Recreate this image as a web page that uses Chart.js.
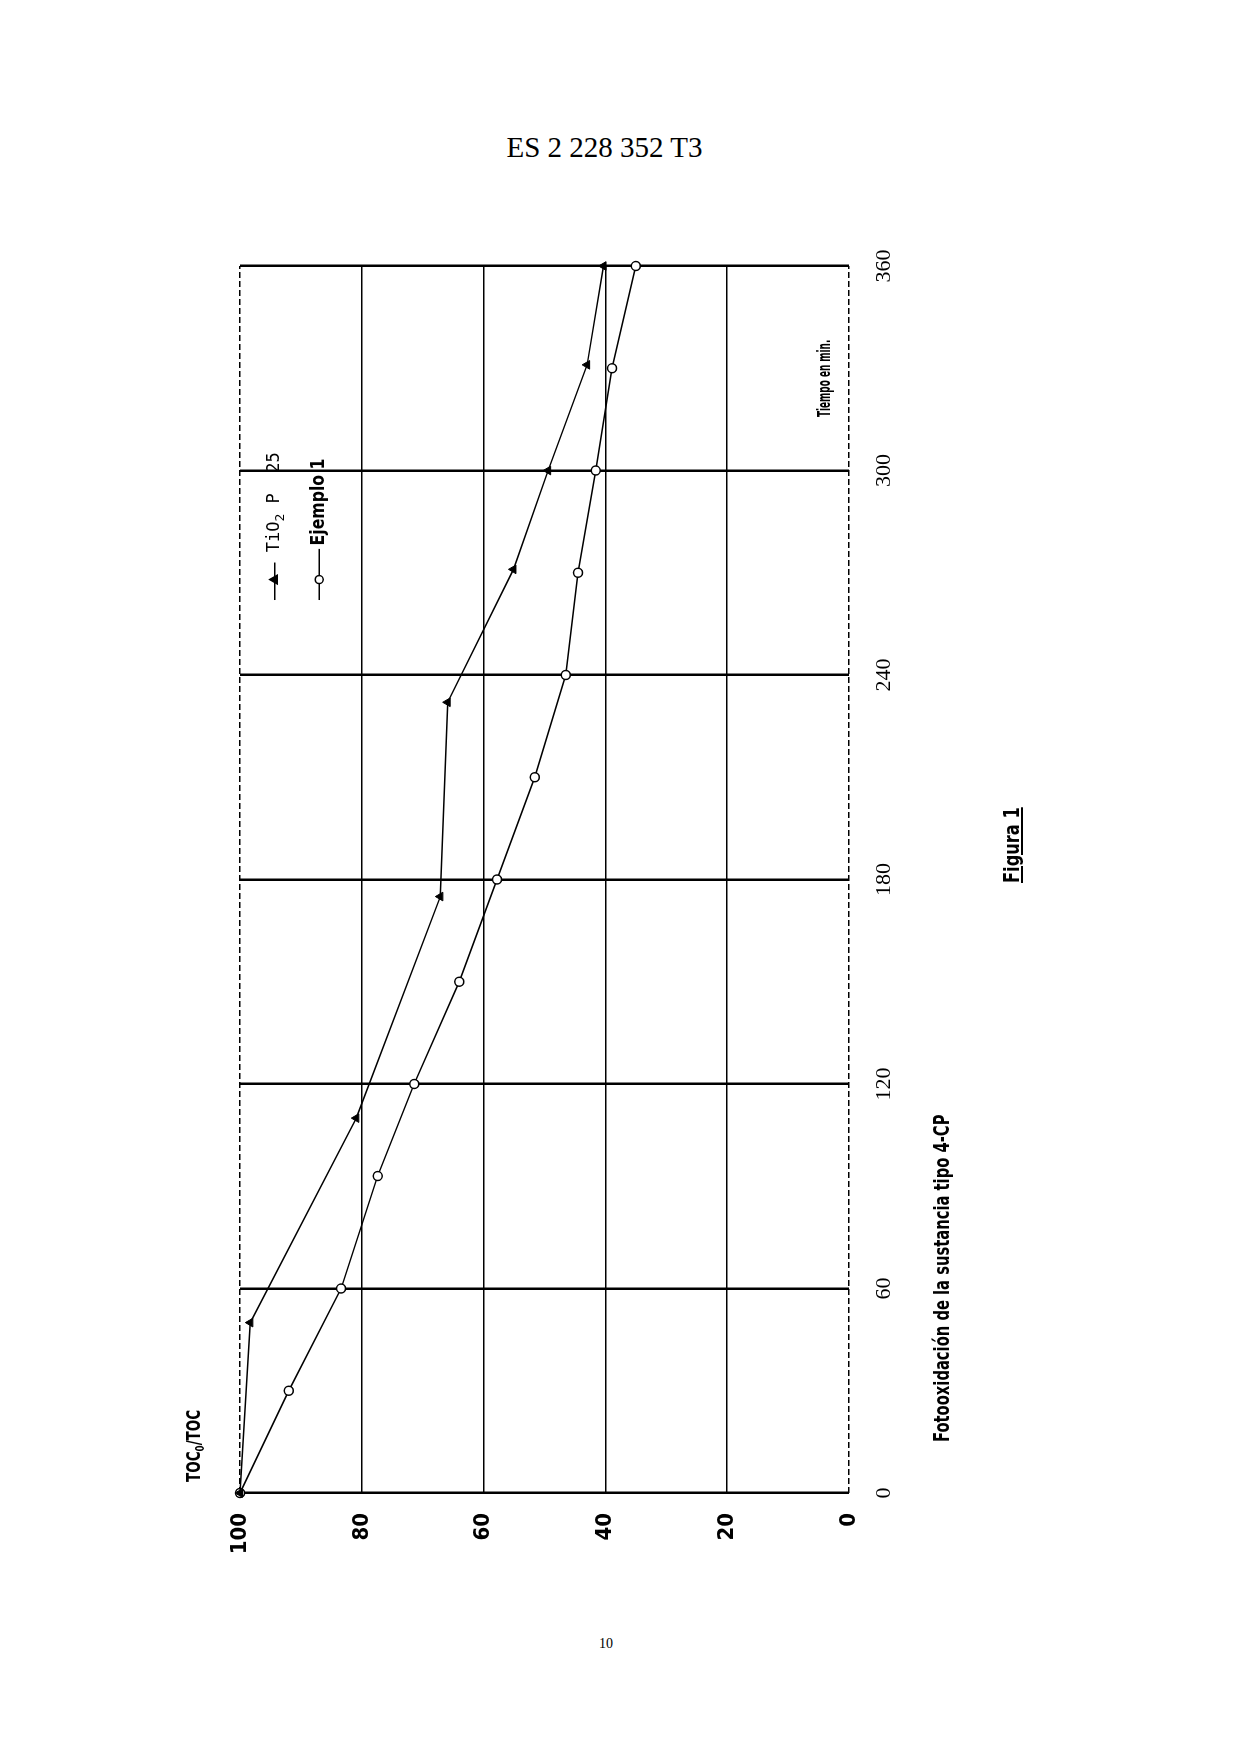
<!DOCTYPE html>
<html lang="es">
<head>
<meta charset="utf-8">
<title>Figura 1</title>
<script src="https://cdn.jsdelivr.net/npm/chart.js@4.4.1/dist/chart.umd.min.js"></script>
<style>
  html, body { margin: 0; padding: 0; background: #fff; }
  body { width: 1240px; height: 1754px; position: relative; overflow: hidden; }
  .header {
    position: absolute; left: 0; top: 133px; width: 1209px;
    text-align: center; font: 29px/29px "Liberation Serif", "Times New Roman", serif; color: #000;
  }
  .pagenum {
    position: absolute; left: 0; top: 1637px; width: 1212px;
    text-align: center; font: 14px/14px "Liberation Serif", serif; color: #000;
  }
  /* el gráfico entero va girado 90° como en la patente */
  #rot {
    position: absolute; left: 0; top: 0; width: 1470px; height: 940px;
    transform-origin: 0 0; transform: translate(140px, 1620px) rotate(-90deg);
  }
  #rot canvas { position: absolute; left: 0; top: 0; }
  .caption {
    position: absolute; left: 178px; top: 792px; white-space: nowrap;
    font: bold 21px/21px "Liberation Sans Narrow", "DejaVu Sans Condensed", sans-serif; color: #000;
    transform-origin: 0 50%; transform: scaleX(0.78);
  }
  .figura {
    position: absolute; left: 737px; top: 861px; white-space: nowrap;
    font: bold 22px/22px "Liberation Sans Narrow", "DejaVu Sans Condensed", sans-serif; color: #000;
    text-decoration: underline;
    transform-origin: 0 50%; transform: scaleX(0.82);
  }
</style>
</head>
<body>
<div class="header">ES 2 228 352 T3</div>
<div id="rot">
  <canvas id="chart" width="1470" height="940"></canvas>
  <div class="caption">Fotooxidación de la sustancia tipo 4-CP</div>
  <div class="figura">Figura 1</div>
</div>
<div class="pagenum">10</div>

<script>
// datos (tiempo en min, TOC0/TOC en %)
const timeTiO2 = [0, 50, 110, 175, 232, 271, 300, 331, 360];
const tocTiO2 = [100, 98.3, 80.9, 67.1, 65.9, 55.1, 49.4, 43.0, 40.3];

const timeEjemplo = [0, 30, 60, 93, 120, 150, 180, 210, 240, 270, 300, 330, 360];
const tocEjemplo = [100, 92.0, 83.4, 77.4, 71.4, 64.0, 57.8, 51.6, 46.5, 44.5, 41.6, 38.9, 35.0];

const timeTicks = [0, 60, 120, 180, 240, 300, 360];
const tocTicks = [0, 20, 40, 60, 80, 100];

const seriesNames = ['TiO2 P 25', 'Ejemplo 1'];

const NARROW = '"Liberation Sans Narrow", "DejaVu Sans Condensed", sans-serif';

function toPoints(xs, ys) {
  return xs.map((x, i) => ({ x: x, y: ys[i] }));
}

// escribe texto comprimido en horizontal (la fuente estrecha del original)
function narrowText(ctx, text, x, y, sx) {
  ctx.save();
  ctx.translate(x, y);
  ctx.scale(sx, 1);
  ctx.fillText(text, 0, 0);
  ctx.restore();
  return ctx.measureText(text).width * sx;
}

// leyenda y rótulos dentro del área del gráfico
const annotations = {
  id: 'annotations',
  afterDatasetsDraw(chart) {
    const ctx = chart.ctx;
    const xs = chart.scales.x;
    const ys = chart.scales.y;
    ctx.save();
    ctx.fillStyle = '#000';
    ctx.strokeStyle = '#000';
    ctx.textBaseline = 'middle';
    ctx.textAlign = 'left';

    // fila 1: TiO2 P 25
    let y = ys.getPixelForValue(94.3);
    ctx.lineWidth = 1.5;
    ctx.beginPath();
    ctx.moveTo(xs.getPixelForValue(262), y);
    ctx.lineTo(xs.getPixelForValue(273), y);
    ctx.stroke();
    Chart.helpers.drawPoint(ctx, { pointStyle: 'triangle', radius: 5, rotation: 0, borderWidth: 1 }, xs.getPixelForValue(268), y);
    let x = xs.getPixelForValue(276);
    ctx.font = '17px "DejaVu Sans Mono", monospace';
    ctx.fillText('TiO', x, y);
    x += ctx.measureText('TiO').width;
    ctx.font = '13px "DejaVu Sans Mono", monospace';
    ctx.fillText('2', x, y + 6);
    x += ctx.measureText('2').width;
    ctx.font = '17px "DejaVu Sans Mono", monospace';
    ctx.fillText(' P  25', x, y);

    // fila 2: Ejemplo 1
    y = ys.getPixelForValue(87.0);
    ctx.beginPath();
    ctx.moveTo(xs.getPixelForValue(262), y);
    ctx.lineTo(xs.getPixelForValue(277), y);
    ctx.stroke();
    ctx.fillStyle = '#fff';
    Chart.helpers.drawPoint(ctx, { pointStyle: 'circle', radius: 4, rotation: 0, borderWidth: 1.5 }, xs.getPixelForValue(268), y);
    ctx.fillStyle = '#000';
    ctx.font = 'bold 19px ' + NARROW;
    narrowText(ctx, 'Ejemplo 1', xs.getPixelForValue(278), y, 0.92);

    // título del eje de tiempo, dentro del gráfico
    ctx.font = 'bold 17px ' + NARROW;
    narrowText(ctx, 'Tiempo en min.', xs.getPixelForValue(315.7), ys.getPixelForValue(3.8), 0.58);

    // título del eje TOC, encima del área
    x = xs.getPixelForValue(0) + 11;
    y = chart.chartArea.top - 45;
    ctx.font = 'bold 20px ' + NARROW;
    x += narrowText(ctx, 'TOC', x, y, 0.75);
    ctx.font = 'bold 13px ' + NARROW;
    x += narrowText(ctx, '0', x, y + 6, 0.75);
    ctx.font = 'bold 20px ' + NARROW;
    narrowText(ctx, '/TOC', x, y, 0.75);
    ctx.restore();
  }
};

const ctx = document.getElementById('chart').getContext('2d');
const chart = new Chart(ctx, {
  type: 'scatter',
  data: {
    datasets: [
      {
        label: seriesNames[0],
        data: toPoints(timeTiO2, tocTiO2),
        showLine: true,
        borderColor: '#000',
        backgroundColor: '#000',
        borderWidth: 1.5,
        pointStyle: 'triangle',
        pointRadius: 5,
        pointBorderWidth: 1,
        pointBackgroundColor: '#000',
        clip: false
      },
      {
        label: seriesNames[1],
        data: toPoints(timeEjemplo, tocEjemplo),
        showLine: true,
        borderColor: '#000',
        backgroundColor: '#fff',
        borderWidth: 1.5,
        pointStyle: 'circle',
        pointRadius: 4.5,
        pointBorderWidth: 1.5,
        pointBackgroundColor: '#fff',
        clip: false
      }
    ]
  },
  options: {
    responsive: false,
    animation: false,
    devicePixelRatio: 1,
    layout: { padding: { left: 20, right: 116, top: 100, bottom: 181 } },
    plugins: {
      legend: { display: false },
      tooltip: { enabled: false }
    },
    scales: {
      x: {
        type: 'linear',
        min: 0,
        max: 360,
        afterBuildTicks: (scale) => { scale.ticks = timeTicks.map(v => ({ value: v })); },
        afterFit: (scale) => { scale.height = 50; },
        grid: { color: '#000', lineWidth: 2.5, drawTicks: false },
        border: { display: false },
        ticks: {
          color: '#000',
          padding: 22,
          maxRotation: 0,
          font: { family: '"Liberation Serif", "Times New Roman", serif', size: 22 }
        }
      },
      y: {
        type: 'linear',
        min: 0,
        max: 100,
        afterBuildTicks: (scale) => { scale.ticks = tocTicks.map(v => ({ value: v })); },
        afterFit: (scale) => { scale.width = 107; },
        grid: { color: '#000', lineWidth: 1.5, drawTicks: false },
        border: {
          display: false,
          dash: (c) => (c.tick && (c.tick.value === 0 || c.tick.value === 100)) ? [6, 3] : []
        },
        ticks: {
          color: '#000',
          padding: 20,
          font: { family: NARROW, size: 22, weight: 'bold' }
        }
      }
    }
  },
  plugins: [annotations]
});
</script>
</body>
</html>
